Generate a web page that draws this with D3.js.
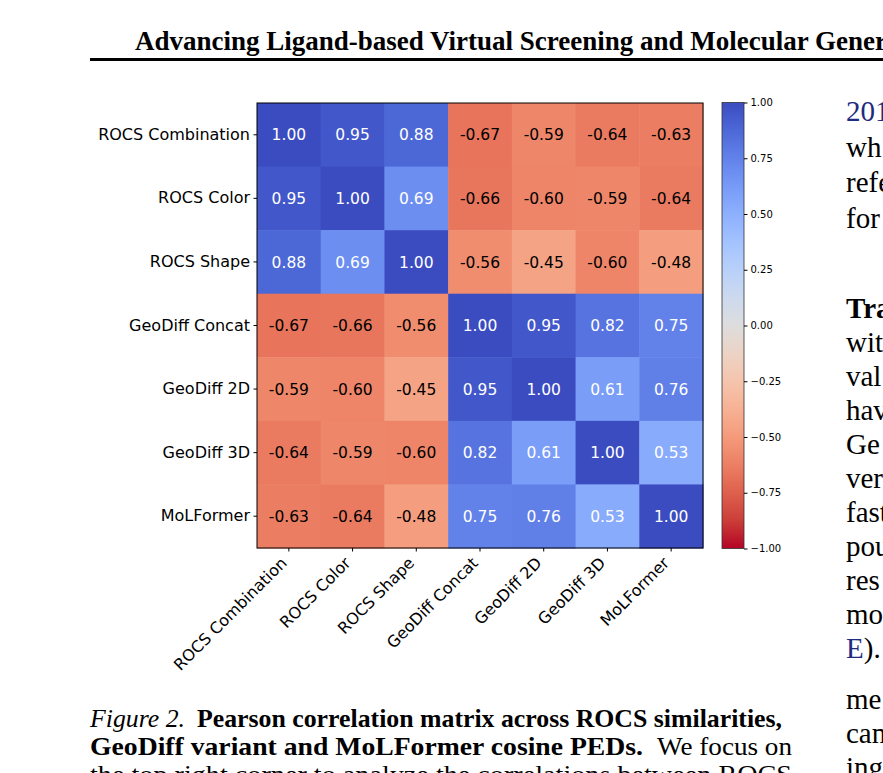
<!doctype html>
<html>
<head>
<meta charset="utf-8">
<script src="https://d3js.org/d3.v7.min.js"></script>
<style>
  body { margin: 0; background: #fff; }
</style>
</head>
<body>
<script>

// labels of the matrix (same order on both axes)
var labels = ['ROCS Combination', 'ROCS Color', 'ROCS Shape', 'GeoDiff Concat', 'GeoDiff 2D', 'GeoDiff 3D', 'MoLFormer'];

// one row per label
var rowRocsCombination = [1.00, 0.95, 0.88, -0.67, -0.59, -0.64, -0.63];
var rowRocsColor       = [0.95, 1.00, 0.69, -0.66, -0.60, -0.59, -0.64];
var rowRocsShape       = [0.88, 0.69, 1.00, -0.56, -0.45, -0.60, -0.48];
var rowGeoDiffConcat   = [-0.67, -0.66, -0.56, 1.00, 0.95, 0.82, 0.75];
var rowGeoDiff2D       = [-0.59, -0.60, -0.45, 0.95, 1.00, 0.61, 0.76];
var rowGeoDiff3D       = [-0.64, -0.59, -0.60, 0.82, 0.61, 1.00, 0.53];
var rowMoLFormer       = [-0.63, -0.64, -0.48, 0.75, 0.76, 0.53, 1.00];

// colorbar ticks
var colorbarTicks = [1.00, 0.75, 0.50, 0.25, 0.00, -0.25, -0.50, -0.75, -1.00];

var matrix = [rowRocsCombination, rowRocsColor, rowRocsShape, rowGeoDiffConcat,
              rowGeoDiff2D, rowGeoDiff3D, rowMoLFormer];

// matplotlib coolwarm, sampled every 1/16
var coolwarm = [
  [0.2298, 0.2987, 0.7537], [0.3039, 0.4065, 0.8450], [0.3830, 0.5094, 0.9174],
  [0.4667, 0.6046, 0.9682], [0.5530, 0.6889, 0.9954], [0.6392, 0.7596, 0.9982],
  [0.7222, 0.8140, 0.9766], [0.7987, 0.8498, 0.9317], [0.8654, 0.8654, 0.8654],
  [0.9241, 0.8274, 0.7745], [0.9589, 0.7698, 0.6780], [0.9700, 0.6943, 0.5794],
  [0.9580, 0.6028, 0.4818], [0.9239, 0.4973, 0.3880], [0.8692, 0.3783, 0.3003],
  [0.7956, 0.2413, 0.2205], [0.7057, 0.0156, 0.1502]
];
var cwColors = coolwarm.map(function (c) {
  return d3.rgb(c[0] * 255, c[1] * 255, c[2] * 255).formatHex();
});
var cwScale = d3.scaleLinear()
                .domain(cwColors.map(function (c, i) { return i / (cwColors.length - 1); }))
                .range(cwColors)
                .interpolate(d3.interpolateRgb)
                .clamp(true);
// reversed map: +1 -> blue, -1 -> red
function colorOf(v) { return cwScale((1 - v) / 2); }

var width = 883, height = 773;
var svg = d3.select('body').append('svg')
            .attr('width', width)
            .attr('height', height)
            .style('display', 'block');

svg.append('rect').attr('width', width).attr('height', height).attr('fill', '#fff');

var serif = '"Liberation Serif", "Times New Roman", serif';
var sans = '"DejaVu Sans", sans-serif';

// running header
svg.append('text')
   .attr('x', 135).attr('y', 50)
   .attr('font-family', serif).attr('font-weight', 'bold').attr('font-size', 27)
   .text('Advancing Ligand-based Virtual Screening and Molecular Gener');
svg.append('rect')
   .attr('x', 90).attr('y', 58).attr('width', width - 90).attr('height', 3)
   .attr('fill', '#000');

// heatmap area
var mLeft = 257, mRight = 703, mTop = 103, mBottom = 548;
var x = d3.scaleBand().domain(labels).range([mLeft, mRight]);
var y = d3.scaleBand().domain(labels).range([mTop, mBottom]);

var cells = [];
matrix.forEach(function (row, i) {
  row.forEach(function (v, j) {
    cells.push({row: labels[i], col: labels[j], value: v});
  });
});

var heat = svg.append('g');
heat.selectAll('rect')
    .data(cells)
    .enter()
    .append('rect')
    .attr('x', function (d) { return x(d.col); })
    .attr('y', function (d) { return y(d.row); })
    .attr('width', x.bandwidth() + 0.5)
    .attr('height', y.bandwidth() + 0.5)
    .attr('fill', function (d) { return colorOf(d.value); });

var fmt = d3.format('.2f');
heat.selectAll('text')
    .data(cells)
    .enter()
    .append('text')
    .attr('x', function (d) { return x(d.col) + x.bandwidth() / 2; })
    .attr('y', function (d) { return y(d.row) + y.bandwidth() / 2; })
    .attr('dy', '0.36em')
    .attr('text-anchor', 'middle')
    .attr('font-family', sans)
    .attr('font-size', 15.5)
    .attr('fill', function (d) { return d.value > 0 ? '#fff' : '#000'; })
    .text(function (d) { return fmt(d.value).replace('\u2212', '-'); });

svg.append('rect')
   .attr('x', mLeft).attr('y', mTop)
   .attr('width', mRight - mLeft).attr('height', mBottom - mTop)
   .attr('fill', 'none').attr('stroke', '#000').attr('stroke-width', 1);

// y axis
var yAxis = svg.append('g')
               .attr('transform', 'translate(' + mLeft + ',0)')
               .call(d3.axisLeft(y).tickSize(3.5).tickPadding(3.5));
yAxis.select('.domain').remove();
yAxis.selectAll('text').attr('font-family', sans).attr('font-size', 16).attr('fill', '#000');
yAxis.selectAll('line').attr('stroke', '#000');

// x axis, rotated labels
var xAxis = svg.append('g')
               .attr('transform', 'translate(0,' + mBottom + ')')
               .call(d3.axisBottom(x).tickSize(3.5));
xAxis.select('.domain').remove();
xAxis.selectAll('line').attr('stroke', '#000');
xAxis.selectAll('text')
     .attr('font-family', sans).attr('font-size', 16).attr('fill', '#000')
     .attr('text-anchor', 'end')
     .attr('y', 0).attr('dy', 0)
     .attr('transform', 'translate(-1,16) rotate(-45)');

// colorbar
var cbX = 722, cbW = 22, cbTop = 102.5, cbBottom = 548.5;
var grad = svg.append('defs').append('linearGradient')
              .attr('id', 'cbgrad')
              .attr('x1', 0).attr('y1', 0).attr('x2', 0).attr('y2', 1);
d3.range(0, 1.0001, 1 / 32).forEach(function (t) {
  grad.append('stop')
      .attr('offset', t)
      .attr('stop-color', colorOf(1 - 2 * t));
});
svg.append('rect')
   .attr('x', cbX).attr('y', cbTop)
   .attr('width', cbW).attr('height', cbBottom - cbTop)
   .attr('fill', 'url(#cbgrad)')
   .attr('stroke', '#333').attr('stroke-width', 0.8);

var cbScale = d3.scaleLinear().domain([-1, 1]).range([cbBottom, cbTop]);
var cbAxis = svg.append('g')
                .attr('transform', 'translate(' + (cbX + cbW) + ',0)')
                .call(d3.axisRight(cbScale).tickValues(colorbarTicks)
                        .tickFormat(d3.format('.2f')).tickSize(3.5).tickPadding(3));
cbAxis.select('.domain').remove();
cbAxis.selectAll('line').attr('stroke', '#000');
cbAxis.selectAll('text').attr('font-family', sans).attr('font-size', 10).attr('fill', '#000');

// caption
function captionLine(yPos, parts) {
  var t = svg.append('text')
             .attr('y', yPos)
             .attr('font-family', serif)
             .attr('font-size', 25.5);
  parts.forEach(function (p) {
    t.append('tspan')
     .attr('x', p.x)
     .attr('font-weight', p.bold ? 'bold' : 'normal')
     .attr('font-style', p.italic ? 'italic' : 'normal')
     .attr('textLength', p.w)
     .attr('lengthAdjust', 'spacingAndGlyphs')
     .text(p.s);
  });
}
captionLine(727, [
  {x: 90, w: 95, italic: true, s: 'Figure 2.'},
  {x: 197, w: 585, bold: true, s: 'Pearson correlation matrix across ROCS similarities,'}
]);
captionLine(755, [
  {x: 90, w: 553, bold: true, s: 'GeoDiff variant and MoLFormer cosine PEDs.'},
  {x: 657, w: 135, s: 'We focus on'}
]);
captionLine(783, [
  {x: 90, w: 702, s: 'the top right corner to analyze the correlations between ROCS'}
]);

// right text column (cut by the page edge)
var colLines = ['201', 'wh', 'refe', 'for'];
var colLines2 = ['Tra', 'wit', 'val', 'hav', 'Ge', 'ver', 'fast', 'pou', 'res', 'mo', 'E).'];
var colLines3 = ['me', 'can', 'ing'];
var linkBlue = '#1f2b7e';
function colLine(s, yPos, bold) {
  var t = svg.append('text')
             .attr('x', 846).attr('y', yPos)
             .attr('font-family', serif).attr('font-size', 29)
             .attr('font-weight', bold ? 'bold' : 'normal')
             .attr('fill', '#000');
  if (s === 'E).') {
    t.append('tspan').attr('fill', linkBlue).text('E');
    t.append('tspan').text(').');
  } else if (s === '201') {
    t.attr('fill', linkBlue).text(s);
  } else {
    t.text(s);
  }
}
colLines.forEach(function (s, i) { colLine(s, 121 + i * 35.5, false); });
colLines2.forEach(function (s, i) { colLine(s, 318 + i * 34, i === 0); });
colLines3.forEach(function (s, i) { colLine(s, 709 + i * 34, false); });

</script>
</body>
</html>
